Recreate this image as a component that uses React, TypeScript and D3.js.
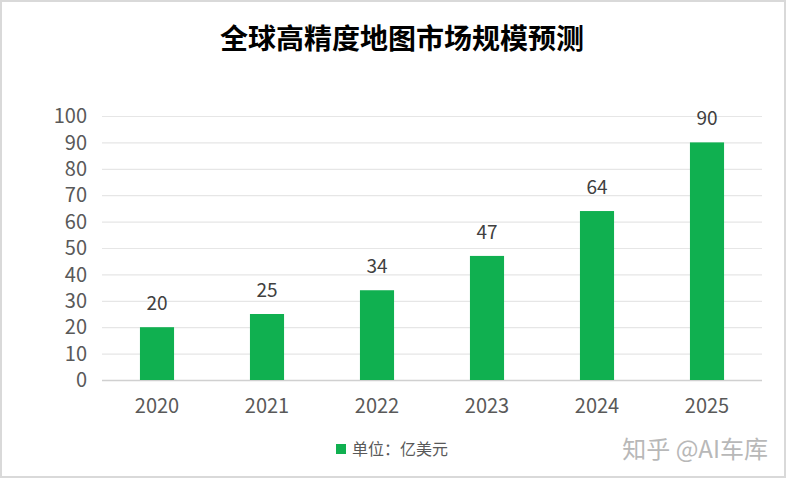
import { useEffect, useRef } from 'react';
import * as d3 from 'd3';

const years = ['2020', '2021', '2022', '2023', '2024', '2025'];
const values = [20, 25, 34, 47, 64, 90];
const yTicks = [0, 10, 20, 30, 40, 50, 60, 70, 80, 90, 100];

const title = '全球高精度地图市场规模预测';
const legendLabel = '单位：亿美元';
const watermark = '知乎 @AI车库';

const width = 786;
const height = 479;
const font = '"Microsoft YaHei", "Noto Sans CJK SC", "Open Sans", sans-serif';

export default function App() {
  const svgRef = useRef<SVGSVGElement>(null);

  useEffect(() => {
    if (!svgRef.current) return;
    const svg = d3.select(svgRef.current);
    svg.selectAll('*').remove();

    const margin = { top: 116, right: 24, bottom: 99, left: 102 };
    const innerWidth = width - margin.left - margin.right;
    const innerHeight = height - margin.top - margin.bottom;

    // background + light frame
    svg.append('rect')
      .attr('width', width)
      .attr('height', height)
      .attr('fill', '#ffffff');
    svg.append('rect')
      .attr('x', 1)
      .attr('y', 1)
      .attr('width', width - 2)
      .attr('height', height - 3)
      .attr('fill', 'none')
      .attr('stroke', '#d9d9d9')
      .attr('stroke-width', 2);

    svg.append('text')
      .attr('x', 402)
      .attr('y', 49)
      .attr('text-anchor', 'middle')
      .attr('fill', '#000000')
      .attr('font-family', font)
      .attr('font-size', '28px')
      .attr('font-weight', 'bold')
      .text(title);

    const xScale = d3.scaleBand<string>()
      .domain(years)
      .range([0, innerWidth])
      .paddingInner(0.69)
      .paddingOuter(0.345);

    const yScale = d3.scaleLinear()
      .domain([0, 100])
      .range([innerHeight, 0]);

    const g = svg.append('g')
      .attr('transform', `translate(${margin.left},${margin.top})`);

    // gridlines
    g.selectAll('line.grid')
      .data(yTicks)
      .enter()
      .append('line')
      .attr('class', 'grid')
      .attr('x1', 0)
      .attr('x2', innerWidth)
      .attr('y1', d => yScale(d) + 0.5)
      .attr('y2', d => yScale(d) + 0.5)
      .attr('stroke', d => (d === 0 ? '#d0d0d0' : '#e6e6e6'))
      .attr('stroke-width', d => (d === 0 ? 1.5 : 1.2));

    // y tick labels
    g.selectAll('text.ytick')
      .data(yTicks)
      .enter()
      .append('text')
      .attr('class', 'ytick')
      .attr('x', -15)
      .attr('y', d => yScale(d))
      .attr('dy', '0.36em')
      .attr('text-anchor', 'end')
      .attr('fill', '#595959')
      .attr('font-family', font)
      .attr('font-size', '20px')
      .text(d => d);

    // bars
    g.selectAll('rect.bar')
      .data(values)
      .enter()
      .append('rect')
      .attr('class', 'bar')
      .attr('x', (_, i) => xScale(years[i])!)
      .attr('y', d => yScale(d))
      .attr('width', xScale.bandwidth())
      .attr('height', d => innerHeight - yScale(d))
      .attr('fill', '#10b050');

    // value labels
    g.selectAll('text.val')
      .data(values)
      .enter()
      .append('text')
      .attr('class', 'val')
      .attr('x', (_, i) => xScale(years[i])! + xScale.bandwidth() / 2)
      .attr('y', d => yScale(d) - 17)
      .attr('text-anchor', 'middle')
      .attr('fill', '#404040')
      .attr('font-family', font)
      .attr('font-size', '19px')
      .text(d => d);

    // x labels
    g.selectAll('text.xtick')
      .data(years)
      .enter()
      .append('text')
      .attr('class', 'xtick')
      .attr('x', d => xScale(d)! + xScale.bandwidth() / 2)
      .attr('y', innerHeight + 33)
      .attr('text-anchor', 'middle')
      .attr('fill', '#595959')
      .attr('font-family', font)
      .attr('font-size', '20px')
      .text(d => d);

    // legend
    svg.append('rect')
      .attr('x', 336)
      .attr('y', 444)
      .attr('width', 10)
      .attr('height', 10)
      .attr('fill', '#10b050');
    svg.append('text')
      .attr('x', 352)
      .attr('y', 455)
      .attr('fill', '#595959')
      .attr('font-family', font)
      .attr('font-size', '16px')
      .text(legendLabel);

    // watermark
    svg.append('text')
      .attr('x', 768)
      .attr('y', 458)
      .attr('text-anchor', 'end')
      .attr('fill', '#b8b8b8')
      .attr('font-family', font)
      .attr('font-size', '24px')
      .text(watermark);
  }, []);

  return (
    <svg
      ref={svgRef}
      width={width}
      height={height}
      style={{ position: 'fixed', top: 0, left: 0, display: 'block' }}
    />
  );
}
